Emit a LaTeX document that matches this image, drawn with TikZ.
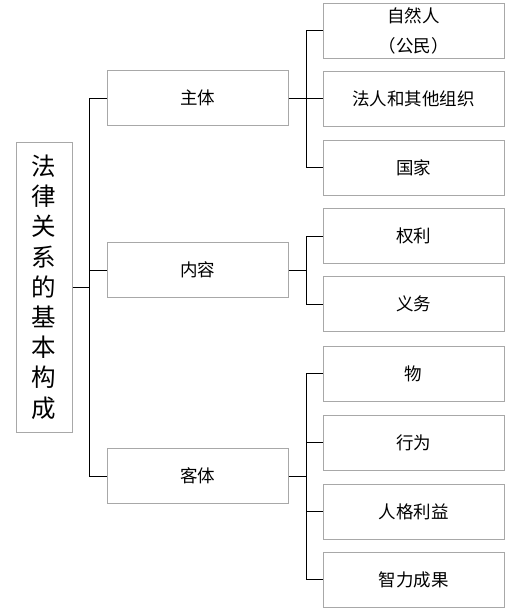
\documentclass[tikz,border=0pt]{standalone}
\usepackage{fontspec}
\setmainfont{Noto Sans CJK SC}
\definecolor{boxgray}{HTML}{A8A8A8}
\tikzset{
  box/.style={draw=boxgray, line width=1pt, minimum width=181pt, minimum height=55pt,
    inner sep=0pt, align=center, font=\fontsize{17.5}{30}\selectfont},
  rootbox/.style={draw=boxgray, line width=1pt, minimum width=56pt, minimum height=290pt,
    inner sep=0pt, align=center, font=\fontsize{24.5}{30.2}\selectfont},
  link/.style={line width=1pt}
}
\begin{document}
\begin{tikzpicture}[x=1pt,y=-1pt]
\useasboundingbox (0,0) rectangle (526,614);
% root
\node[rootbox] (root) at (44,287) {法\\律\\关\\系\\的\\基\\本\\构\\成};
%
\node[box] (zhuti) at (197.5,98) {主体};
\node[box] (neirong) at (197.5,270) {内容};
\node[box] (keti) at (197.5,476) {客体};
%
\node[box] (ziranren) at (413.5,30.5) {自然人\\（公民）};
\node[box] (faren) at (413.5,98.5) {法人和其他组织};
\node[box] (guojia) at (413.5,167.5) {国家};
%
\node[box] (quanli) at (413.5,236) {权利};
\node[box] (yiwu) at (413.5,304) {义务};
%
\node[box] (wu) at (413.5,373.5) {物};
\node[box] (xingwei) at (413.5,442.5) {行为};
\node[box] (renge) at (413.5,511.5) {人格利益};
\node[box] (zhili) at (413.5,579.5) {智力成果};
%
\coordinate (trunk) at (89,0);
\coordinate (branch) at (306,0);
%
\draw[link] (root.east) -- (root.east -| trunk);
\draw[link] (zhuti.west -| trunk) -- (keti.west -| trunk);
\draw[link] (zhuti.west -| trunk) -- (zhuti.west);
\draw[link] (neirong.west -| trunk) -- (neirong.west);
\draw[link] (keti.west -| trunk) -- (keti.west);
%
\draw[link] (zhuti.east) -- (zhuti.east -| branch);
\draw[link] (ziranren.west -| branch) -- (guojia.west -| branch);
\draw[link] (ziranren.west -| branch) -- (ziranren.west);
\draw[link] (faren.west -| branch) -- (faren.west);
\draw[link] (guojia.west -| branch) -- (guojia.west);
%
\draw[link] (neirong.east) -- (neirong.east -| branch);
\draw[link] (quanli.west -| branch) -- (yiwu.west -| branch);
\draw[link] (quanli.west -| branch) -- (quanli.west);
\draw[link] (yiwu.west -| branch) -- (yiwu.west);
%
\draw[link] (keti.east) -- (keti.east -| branch);
\draw[link] (wu.west -| branch) -- (zhili.west -| branch);
\draw[link] (wu.west -| branch) -- (wu.west);
\draw[link] (xingwei.west -| branch) -- (xingwei.west);
\draw[link] (renge.west -| branch) -- (renge.west);
\draw[link] (zhili.west -| branch) -- (zhili.west);
\end{tikzpicture}
\end{document}
